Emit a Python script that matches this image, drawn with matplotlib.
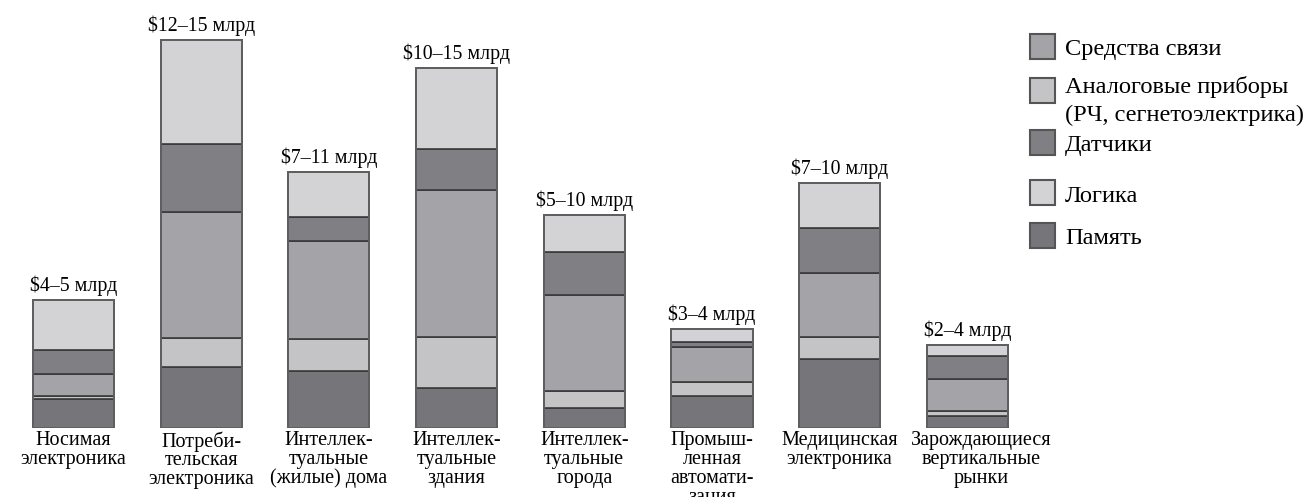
import numpy as np
import matplotlib.pyplot as plt
from matplotlib.patches import Rectangle

plt.rcParams['font.family'] = ['Liberation Serif', 'DejaVu Serif']

# категории рынков
categories = ['Носимая\nэлектроника',
              'Потреби-\nтельская\nэлектроника',
              'Интеллек-\nтуальные\n(жилые) дома',
              'Интеллек-\nтуальные\nздания',
              'Интеллек-\nтуальные\nгорода',
              'Промыш-\nленная\nавтомати-\nзация',
              'Медицинская\nэлектроника',
              'Зарождающиеся\nвертикальные\nрынки']
totals = ['$4–5 млрд', '$12–15 млрд', '$7–11 млрд', '$10–15 млрд',
          '$5–10 млрд', '$3–4 млрд', '$7–10 млрд', '$2–4 млрд']

# относительные высоты сегментов (снизу вверх)
memory  = [29, 61, 57, 40, 20, 32, 69, 12]
analog  = [3, 29, 32, 51, 17, 14, 22, 5]
comm    = [22, 126, 98, 147, 96, 35, 64, 32]
sensors = [24, 68, 24, 41, 43, 5, 45, 23]
logic   = [50, 104, 45, 81, 37, 13, 45, 11]

series = [('Память', memory, '#76767a'),
          ('Аналоговые приборы\n(РЧ, сегнетоэлектрика)', analog, '#c4c4c6'),
          ('Средства связи', comm, '#a4a4a8'),
          ('Датчики', sensors, '#808084'),
          ('Логика', logic, '#d3d3d5')]

fig = plt.figure(figsize=(13.14, 4.97), dpi=100)
ax = fig.add_axes([0, 69 / 497, 1040 / 1314, 428 / 497])

x = np.arange(len(categories))
bottom = np.zeros(len(categories))
for name, vals, color in series:
    ax.bar(x, vals, bottom=bottom, width=0.635, color=color,
           edgecolor='#3a3a3a', linewidth=1.2)
    bottom += np.array(vals)

# обводка столбцов
ax.bar(x, bottom, width=0.635, fill=False, edgecolor='#606060', linewidth=1.4)

for xi, top, lab in zip(x, bottom, totals):
    ax.text(xi, top + 14, lab, ha='center', va='center', fontsize=14.3)

# подписи под столбцами (последняя чуть сдвинута вправо, как в оригинале)
label_shift = [0, 0, 0, 0, 0, 0, 0, 14]
for xi, lab, dx in zip(x, categories, label_shift):
    ax.annotate(lab, (xi, 0), xytext=(dx, -3), textcoords='offset pixels',
                ha='center', va='top', fontsize=14.5, linespacing=0.99,
                annotation_clip=False)

ax.set_xlim(-73.5 / 127.7, (1040 - 73.5) / 127.7)
ax.set_ylim(0, 428)
ax.axis('off')

# легенда
legend_rows = [('Средства связи', '#a4a4a8', 46, [49]),
               ('Аналоговые приборы', '#c4c4c6', 90, [87, 115]),
               ('Датчики', '#808084', 142, [145]),
               ('Логика', '#d3d3d5', 192, [196]),
               ('Память', '#76767a', 235, [239])]
extra = {'Аналоговые приборы': ['Аналоговые приборы', '(РЧ, сегнетоэлектрика)']}
W, H = 1314, 497
for name, color, yc, ys in legend_rows:
    fig.add_artist(Rectangle(((1030) / W, (H - yc - 12.5) / H), 25 / W, 25 / H,
                             transform=fig.transFigure, facecolor=color,
                             edgecolor='#555555', linewidth=1.5))
    lines = extra.get(name, [name])
    for line, yl in zip(lines, ys):
        fig.text(1065 / W, (H - yl) / H, line, ha='left', va='center', fontsize=17.6)

fig.savefig('out.png', dpi=100)
